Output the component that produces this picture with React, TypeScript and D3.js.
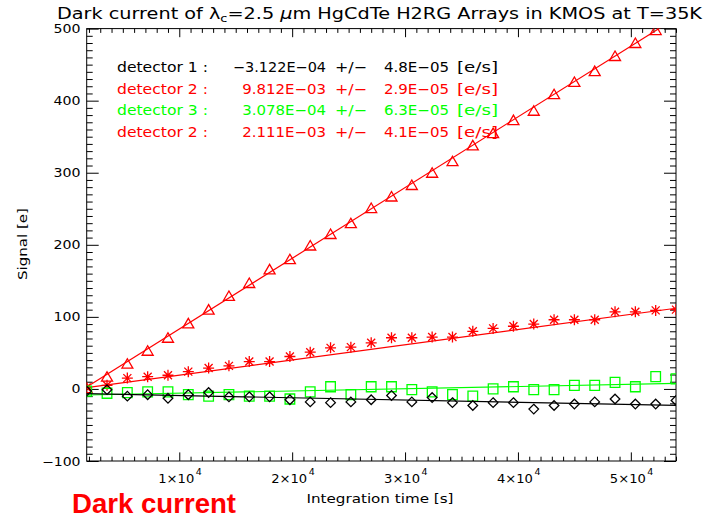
import React, { useRef, useEffect } from 'react';
import * as d3 from 'd3';

// integration times [s]
const times = [1800, 3600, 5400, 7200, 9000, 10800, 12600, 14400, 16200, 18000, 19800, 21600, 23400, 25200, 27000,
  28800, 30600, 32400, 34200, 36000, 37800, 39600, 41400, 43200, 45000, 46800, 48600, 50400, 52200, 54000];

// signal [e]
const det1 = [-3, -1, -10, -8, -13, -8, -5, -11, -11, -11, -15, -18, -19, -18, -15, -9, -18, -12, -19, -23,
  -19, -19, -28, -23, -21, -18, -14, -21, -21, -16];
const det2Fast = [1, 17, 35, 53, 71, 91, 110, 129, 147, 166, 180, 199, 215, 230, 251, 267, 283, 300, 316, 338,
  355, 373, 386, 409, 426, 441, 462, 480, 498, 515];
const det3 = [-3, -6, -5, -4, -4, -8, -10, -8, -10, -10, -14, -4, 3, -8, 3, 3, -1, -4, -8, -10, 0, 3, -1, -1,
  5, 5, 9, 3, 17, 14];
const det2Slow = [2, 5, 15, 17, 19, 24, 29, 32, 38, 38, 45, 51, 57, 58, 64, 71, 71, 72, 72, 80, 84, 87, 90, 96,
  96, 96, 107, 107, 109, 110];

// linear fits: slope [e/s] from the legend, offset [e]
// order: det2Fast, det2Slow, det3, det1
const fitSlopes = [9.812e-3, 2.111e-3, 3.078e-4, -3.122e-4];
const fitOffsets = [-15, -2, -9, -6];

// legend text
const legendNames = ['detector 1 :', 'detector 2 :', 'detector 3 :', 'detector 2 :'];
const legendRates = ['\u22123.122E\u221204', '9.812E\u221203', '3.078E\u221204', '2.111E\u221203'];
const legendErrs = ['4.8E\u221205', '2.9E\u221205', '6.3E\u221205', '4.1E\u221205'];
const legendColors = ['#000000', '#ff0000', '#00ff00', '#ff0000'];

// ticks
const xMajor = [10000, 20000, 30000, 40000, 50000];
const xMajorLabels = ['1', '2', '3', '4', '5'];
const yMajor = [-100, 0, 100, 200, 300, 400, 500];

const FONT = 'DejaVu Sans, sans-serif';

const markers = {
  triangle: 'M-5.5,4.5L0,-5L5.5,4.5Z',
  asterisk: 'M0,-5.5V5.5M-5.5,0H5.5M-4,-4L4,4M-4,4L4,-4',
  square: 'M-4.8,-5H4.8V5H-4.8Z',
  diamond: 'M0,-4.8L4.8,0L0,4.8L-4.8,0Z',
};

const DarkCurrentChart = () => {
  const svgRef = useRef(null);

  useEffect(() => {
    const svg = d3.select(svgRef.current);
    svg.selectAll('*').remove();

    const left = 86.7, right = 676, top = 28.6, bottom = 461;

    const x = d3.scaleLinear().domain([1800, 54000]).range([left, right]);
    const y = d3.scaleLinear().domain([-100, 500]).range([bottom, top]);

    svg.append('defs').append('clipPath').attr('id', 'plotclip')
      .append('rect').attr('x', left).attr('y', top).attr('width', right - left).attr('height', bottom - top);

    // title
    const title = svg.append('text')
      .attr('x', 57).attr('y', 18.5)
      .attr('font-family', FONT).attr('font-size', 15)
      .attr('textLength', 645).attr('lengthAdjust', 'spacingAndGlyphs');
    title.append('tspan').text('Dark current of \u03bb');
    title.append('tspan').attr('dy', 3).attr('font-size', 10).text('c');
    title.append('tspan').attr('dy', -3).text('=2.5 ');
    title.append('tspan').attr('font-style', 'italic').text('\u03bc');
    title.append('tspan').text('m HgCdTe H2RG Arrays in KMOS at T=35K');

    // ticks on all four sides (pointing inward)
    const xMinor = d3.range(2000, 54001, 1000).filter((v) => v % 10000 !== 0);
    const yMinor = d3.range(-100, 501, 10).filter((v) => v % 100 !== 0);

    const addAxis = (axis, tx, ty) => {
      const g = svg.append('g').attr('transform', `translate(${tx},${ty})`).call(axis);
      g.select('.domain').remove();
      g.selectAll('text').remove();
      g.selectAll('line').attr('stroke', '#000').attr('stroke-width', 1);
    };
    addAxis(d3.axisBottom(x).tickValues(xMinor).tickSize(-4.3), 0, bottom);
    addAxis(d3.axisBottom(x).tickValues(xMajor).tickSize(-8.6), 0, bottom);
    addAxis(d3.axisTop(x).tickValues(xMinor).tickSize(-4.3), 0, top);
    addAxis(d3.axisTop(x).tickValues(xMajor).tickSize(-8.6), 0, top);
    addAxis(d3.axisLeft(y).tickValues(yMinor).tickSize(-6), left, 0);
    addAxis(d3.axisLeft(y).tickValues(yMajor).tickSize(-12), left, 0);
    addAxis(d3.axisRight(y).tickValues(yMinor).tickSize(-6), right, 0);
    addAxis(d3.axisRight(y).tickValues(yMajor).tickSize(-12), right, 0);

    svg.append('rect')
      .attr('x', left).attr('y', top).attr('width', right - left).attr('height', bottom - top)
      .attr('fill', 'none').attr('stroke', '#000').attr('stroke-width', 1);

    // y tick labels
    svg.selectAll('.ylab').data(yMajor).enter().append('text')
      .attr('class', 'ylab')
      .attr('x', (d) => 80.5 - (d < 0 ? 38.5 : d === 0 ? 9 : 27))
      .attr('y', (d) => y(d) + 4.5)
      .attr('font-family', FONT).attr('font-size', 12)
      .attr('textLength', (d) => (d < 0 ? 38.5 : d === 0 ? 9 : 27))
      .attr('lengthAdjust', 'spacingAndGlyphs')
      .text((d) => (d < 0 ? '\u2212' + Math.abs(d) : String(d)));

    // x tick labels  n x 10^4
    xMajor.forEach((v, i) => {
      const t = svg.append('text')
        .attr('x', x(v) - 21).attr('y', 483.3)
        .attr('font-family', FONT).attr('font-size', 12.5);
      t.append('tspan').attr('textLength', 36).attr('lengthAdjust', 'spacingAndGlyphs')
        .text(xMajorLabels[i] + '\u00d710');
      t.append('tspan').attr('dy', -8.5).attr('dx', 1.5).attr('font-size', 9.5).text('4');
    });

    // axis titles
    svg.append('text')
      .attr('x', 380).attr('y', 503).attr('text-anchor', 'middle')
      .attr('font-family', FONT).attr('font-size', 13)
      .attr('textLength', 147).attr('lengthAdjust', 'spacingAndGlyphs')
      .text('Integration time [s]');
    svg.append('text')
      .attr('transform', 'translate(26.5,244) rotate(-90)').attr('text-anchor', 'middle')
      .attr('font-family', FONT).attr('font-size', 13)
      .attr('textLength', 72).attr('lengthAdjust', 'spacingAndGlyphs')
      .text('Signal [e]');

    // data: fit lines and symbols
    const series = [
      { values: det2Fast, color: '#ff0000', marker: markers.triangle },
      { values: det2Slow, color: '#ff0000', marker: markers.asterisk },
      { values: det3, color: '#00ff00', marker: markers.square },
      { values: det1, color: '#000000', marker: markers.diamond },
    ];

    const plot = svg.append('g').attr('clip-path', 'url(#plotclip)');
    const line = d3.line().x((d) => x(d[0])).y((d) => y(d[1]));

    series.forEach((s, k) => {
      const ends = x.domain().map((t) => [t, fitOffsets[k] + fitSlopes[k] * t]);
      plot.append('path')
        .attr('d', line(ends))
        .attr('fill', 'none').attr('stroke', s.color).attr('stroke-width', 1.2);

      plot.selectAll(null).data(s.values).enter().append('path')
        .attr('transform', (d, i) => `translate(${x(times[i])},${y(d)})`)
        .attr('d', s.marker)
        .attr('fill', 'none').attr('stroke', s.color).attr('stroke-width', 1.3);
    });

    // legend with the fitted rates
    legendNames.forEach((name, i) => {
      const yy = 72 + i * 21.7;
      const row = svg.append('g')
        .attr('fill', legendColors[i]).attr('font-family', FONT).attr('font-size', 13.5);
      row.append('text').attr('x', 117).attr('y', yy)
        .attr('textLength', 91).attr('lengthAdjust', 'spacingAndGlyphs').text(name);
      const rw = legendRates[i].length * 9.3;
      row.append('text').attr('x', 326 - rw).attr('y', yy)
        .attr('textLength', rw).attr('lengthAdjust', 'spacingAndGlyphs').text(legendRates[i]);
      row.append('text').attr('x', 335).attr('y', yy)
        .attr('textLength', 32).attr('lengthAdjust', 'spacingAndGlyphs').text('+/\u2212');
      row.append('text').attr('x', 384).attr('y', yy)
        .attr('textLength', 65).attr('lengthAdjust', 'spacingAndGlyphs').text(legendErrs[i]);
      row.append('text').attr('x', 457).attr('y', yy)
        .attr('textLength', 41).attr('lengthAdjust', 'spacingAndGlyphs').text('[e/s]');
    });

    // slide caption
    svg.append('text')
      .attr('x', 72).attr('y', 513)
      .attr('font-family', 'Liberation Sans, sans-serif').attr('font-weight', 'bold')
      .attr('font-size', 28).attr('fill', '#ff0000')
      .attr('textLength', 164).attr('lengthAdjust', 'spacingAndGlyphs')
      .text('Dark current');
  }, []);

  return (
    <svg
      ref={svgRef}
      width={712}
      height={520}
      style={{ position: 'absolute', left: 0, top: 0, background: '#ffffff' }}
    />
  );
};

export default function App() {
  return <DarkCurrentChart />;
}
